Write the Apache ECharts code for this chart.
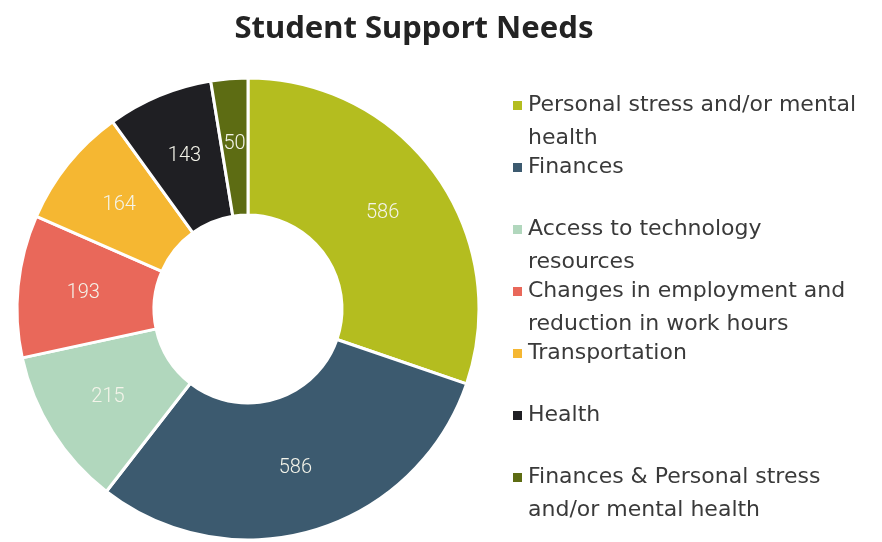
<!DOCTYPE html>
<html>
<head>
<meta charset="utf-8">
<title>Student Support Needs</title>
<script src="https://cdn.jsdelivr.net/npm/echarts@6/dist/echarts.min.js"></script>
<style>
  html, body { margin: 0; padding: 0; background: #ffffff; }
  #chart { width: 882px; height: 542px; }
</style>
</head>
<body>
<div id="chart"></div>
<script>
// Survey categories and response counts
const categories = [
  'Personal stress and/or mental\nhealth',
  'Finances',
  'Access to technology\nresources',
  'Changes in employment and\nreduction in work hours',
  'Transportation',
  'Health',
  'Finances & Personal stress\nand/or mental health'
];
const counts = [586, 586, 215, 193, 164, 143, 50];
const sliceColors = ['#b4bd1f', '#3c5a6f', '#b1d7bd', '#e9685a', '#f5b732', '#1f1f23', '#5d6c13'];

const LEGEND_FONT = 'DejaVu Sans';
const LEGEND_LINE = 33;
const LEGEND_FIRST = 100.5; // centre of the first legend row
const LEGEND_STEP = 62;     // distance between legend rows

// One legend per entry so that every entry starts on a fixed row.
// Two-line names get an empty leading line, which puts their first
// line in the middle of the block, level with the square marker.
const legends = categories.map((name, i) => {
  const twoLines = name.indexOf('\n') >= 0;
  const blockHalf = (twoLines ? 3 : 1) * LEGEND_LINE / 2;
  return {
    data: [name],
    orient: 'vertical',
    left: 506,
    top: LEGEND_FIRST + i * LEGEND_STEP - blockHalf,
    icon: 'rect',
    itemWidth: 11,
    itemHeight: 11,
    selectedMode: false,
    formatter: twoLines ? (n) => '\n' + n : (n) => n,
    textStyle: {
      fontFamily: LEGEND_FONT,
      fontSize: 22,
      color: '#3a3a3a',
      lineHeight: LEGEND_LINE
    }
  };
});

const chart = echarts.init(document.getElementById('chart'), null, { renderer: 'canvas' });
chart.setOption({
  backgroundColor: '#ffffff',
  color: sliceColors,
  title: {
    text: 'Student Support Needs',
    left: 409,
    textAlign: 'center',
    top: 9,
    textStyle: {
      fontFamily: 'Noto Sans',
      fontWeight: 'bold',
      fontSize: 31,
      color: '#232323'
    }
  },
  legend: legends,
  series: [{
    type: 'pie',
    center: [248, 309],
    radius: [94, 231],
    startAngle: 90,
    clockwise: true,
    avoidLabelOverlap: false,
    itemStyle: { borderColor: '#ffffff', borderWidth: 3 },
    label: {
      position: 'inside',
      formatter: '{c}',
      fontFamily: 'Roboto',
      fontWeight: 300,
      fontSize: 20,
      color: '#f4f4ea'
    },
    labelLine: { show: false },
    emphasis: { disabled: true },
    data: categories.map((name, i) => ({ name: name, value: counts[i] }))
  }]
});
</script>
</body>
</html>
